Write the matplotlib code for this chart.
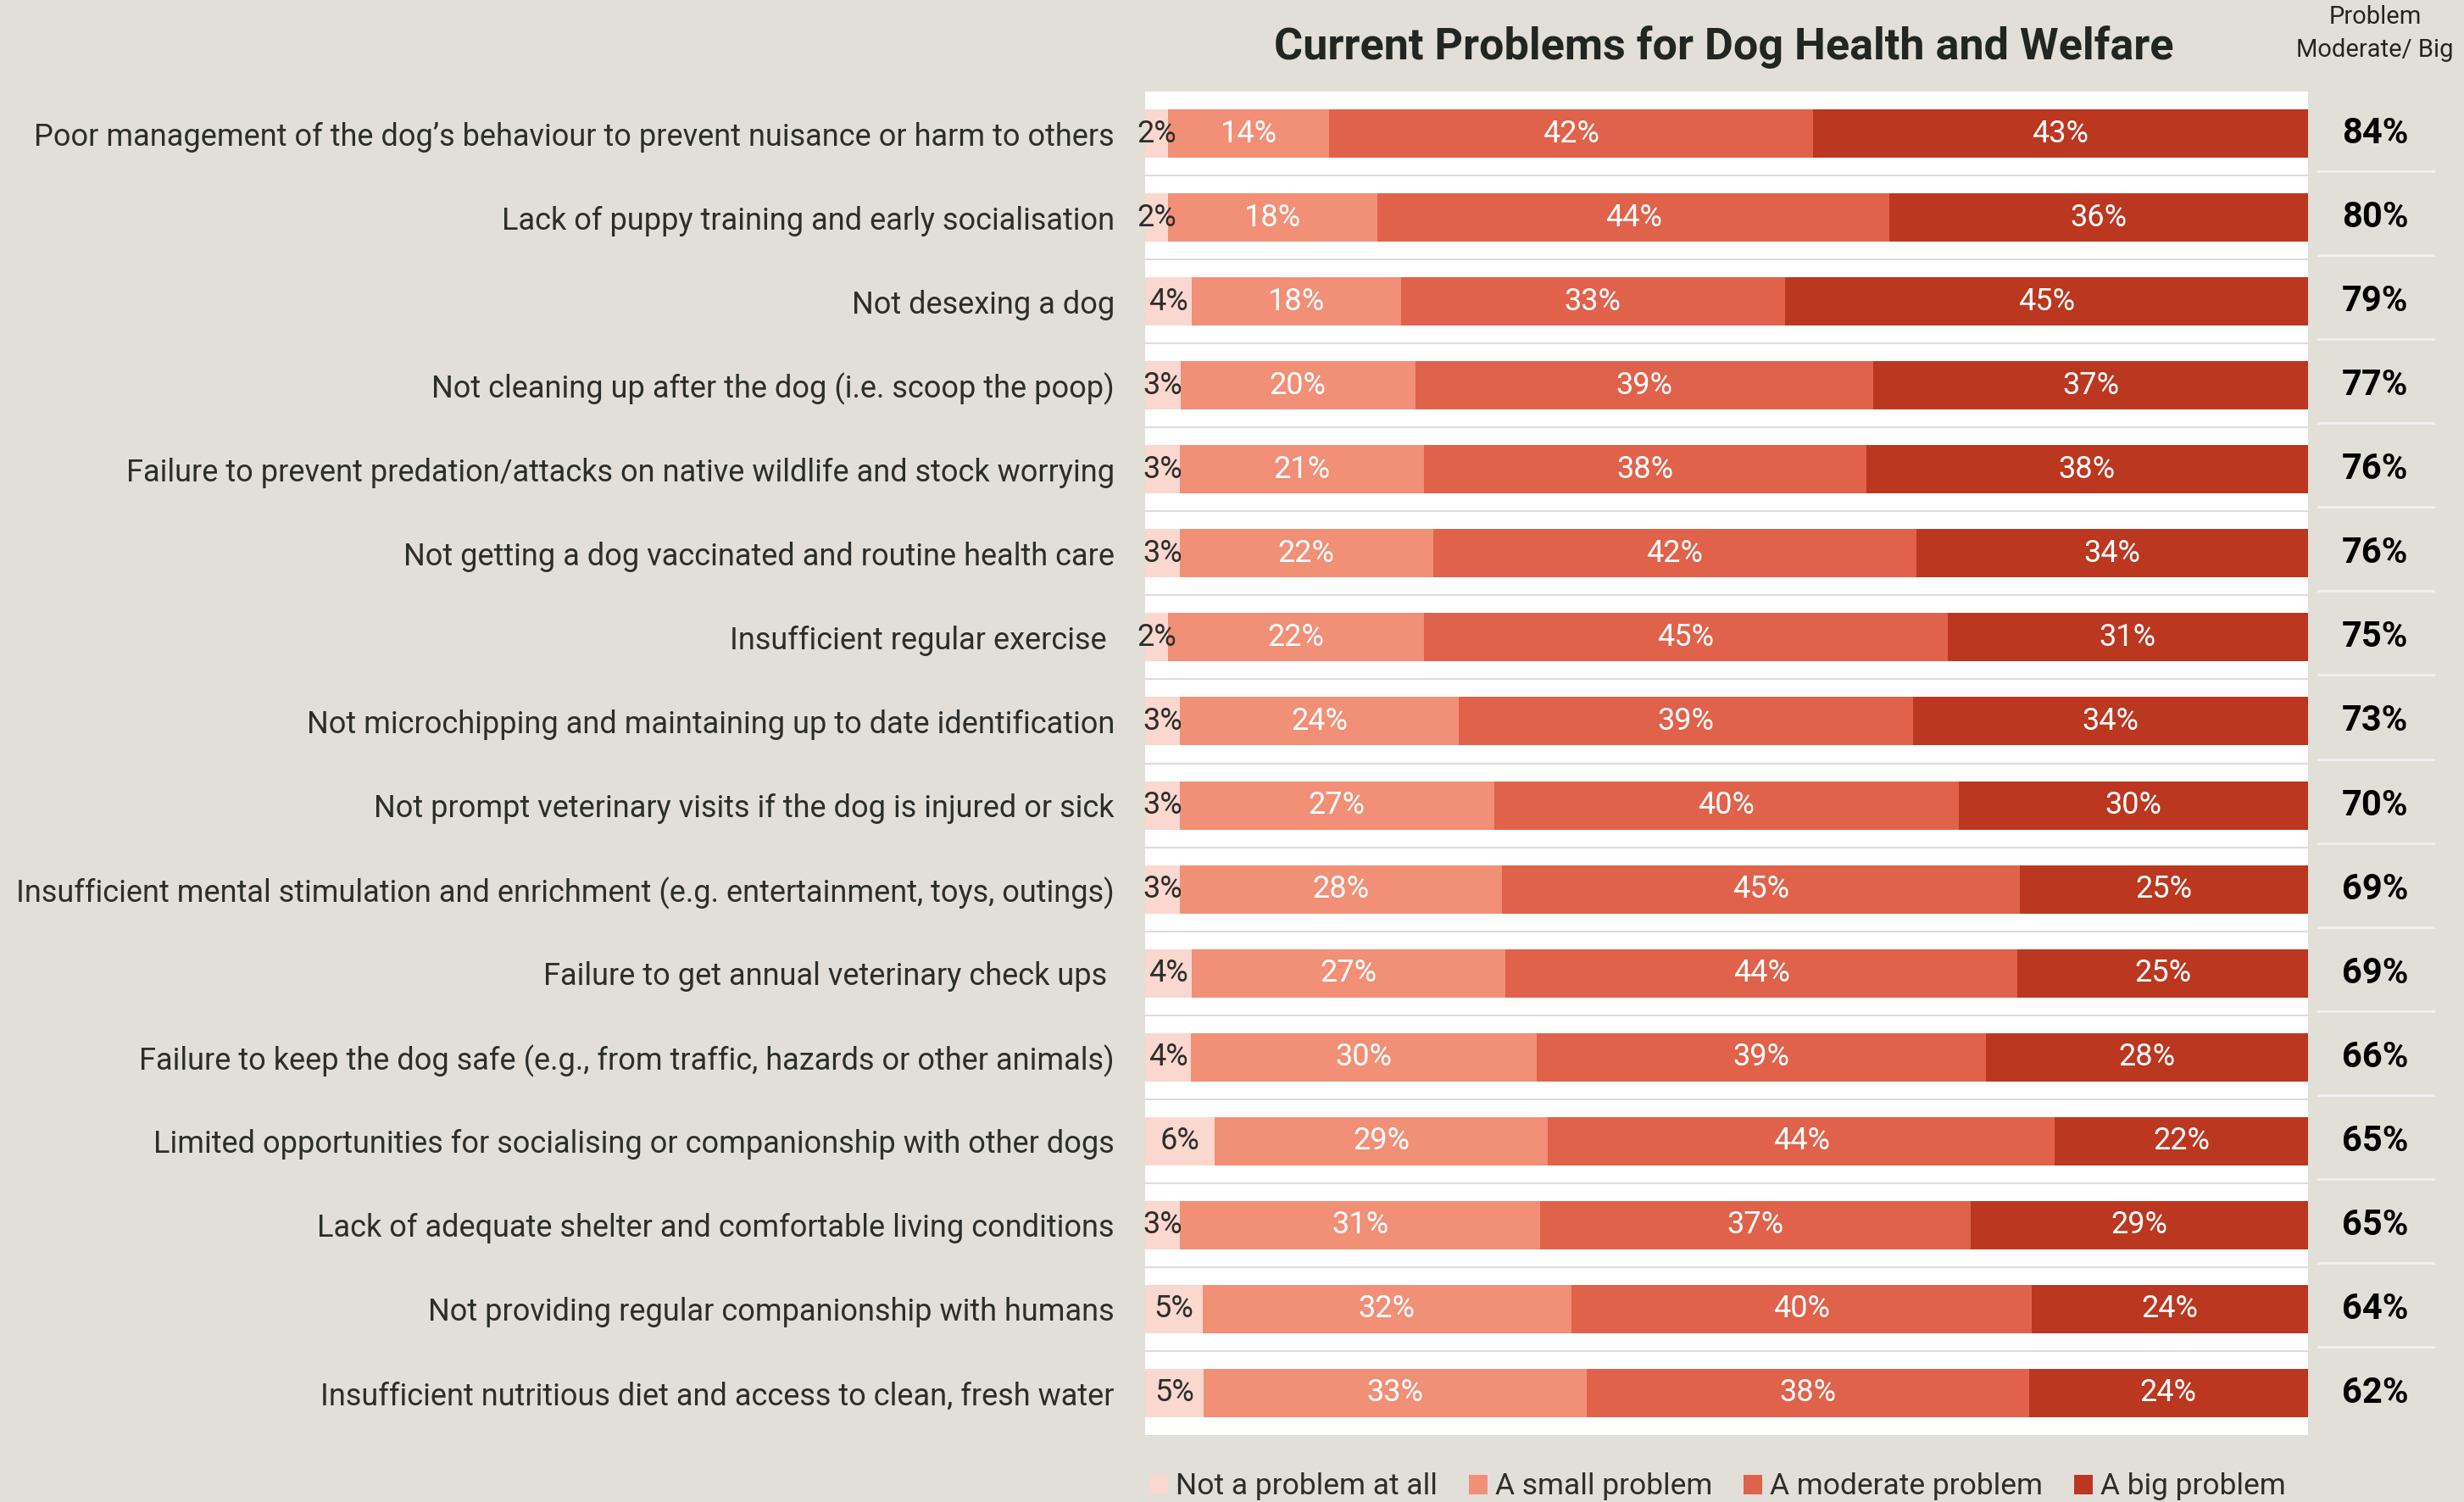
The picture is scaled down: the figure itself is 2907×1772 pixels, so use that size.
import matplotlib
matplotlib.use("Agg")
import matplotlib.pyplot as plt
import numpy as np
from matplotlib.transforms import blended_transform_factory
from matplotlib.lines import Line2D

plt.rcParams['font.family'] = ['Roboto', 'DejaVu Sans']

categories = [
    "Poor management of the dog\u2019s behaviour to prevent nuisance or harm to others",
    "Lack of puppy training and early socialisation",
    "Not desexing a dog",
    "Not cleaning up after the dog (i.e. scoop the poop)",
    "Failure to prevent predation/attacks on native wildlife and stock worrying",
    "Not getting a dog vaccinated and routine health care",
    "Insufficient regular exercise ",
    "Not microchipping and maintaining up to date identification",
    "Not prompt veterinary visits if the dog is injured or sick",
    "Insufficient mental stimulation and enrichment (e.g. entertainment, toys, outings)",
    "Failure to get annual veterinary check ups ",
    "Failure to keep the dog safe (e.g., from traffic, hazards or other animals)",
    "Limited opportunities for socialising or companionship with other dogs",
    "Lack of adequate shelter and comfortable living conditions",
    "Not providing regular companionship with humans",
    "Insufficient nutritious diet and access to clean, fresh water",
]
not_a_problem = [2, 2, 4, 3, 3, 3, 2, 3, 3, 3, 4, 4, 6, 3, 5, 5]
small_problem = [14, 18, 18, 20, 21, 22, 22, 24, 27, 28, 27, 30, 29, 31, 32, 33]
moderate_problem = [42, 44, 33, 39, 38, 42, 45, 39, 40, 45, 44, 39, 44, 37, 40, 38]
big_problem = [43, 36, 45, 37, 38, 34, 31, 34, 30, 25, 25, 28, 22, 29, 24, 24]
moderate_big = [84, 80, 79, 77, 76, 76, 75, 73, 70, 69, 69, 66, 65, 65, 64, 62]
series_names = ["Not a problem at all", "A small problem", "A moderate problem", "A big problem"]

colors = ["#fad7cf", "#f18f77", "#e0624b", "#bc3720"]
label_colors = ["#2b2f2b", "white", "white", "white"]
bg = "#e2dfd9"
dark = "#222622"

W, H = 2907, 1772
fig = plt.figure(figsize=(W / 100, H / 100), dpi=100, facecolor=bg)
ax = fig.add_axes([1351 / W, 1 - 1693 / H, (2723 - 1351) / W, (1693 - 108) / H])
ax.set_facecolor("white")

series = np.array([not_a_problem, small_problem, moderate_problem, big_problem], dtype=float)
totals = series.sum(axis=0)
shares = series / totals * 100
y = np.arange(len(categories))

left = np.zeros(len(categories))
containers = []
for i in range(4):
    c = ax.barh(y, shares[i], left=left, height=0.575, color=colors[i],
                label=series_names[i], linewidth=0)
    containers.append(c)
    ax.bar_label(c, labels=[f"{int(v)}%" for v in series[i]], label_type='center',
                 color=label_colors[i], fontsize=26)
    left += shares[i]

for b in np.arange(0.5, len(categories) - 1, 1.0):
    ax.axhline(b, color="#dcdedd", lw=1.5, zorder=0)

ax.set_xlim(0, 100)
ax.set_ylim(len(categories) - 0.5, -0.5)
ax.set_yticks(y, categories, fontsize=26, color="#2b2f2b")
ax.tick_params(axis='y', length=0, pad=26)
ax.set_xticks([])
for s in ax.spines.values():
    s.set_visible(False)

# Right column
tr = blended_transform_factory(fig.transFigure, ax.transData)
xc = 2802 / W
for i, v in enumerate(moderate_big):
    ax.text(xc, i, f"{v}%", transform=tr, ha='center', va='center', fontsize=30,
            fontweight='bold', color='black', clip_on=False)
for b in np.arange(0.5, len(categories) - 1, 1.0):
    ax.add_line(Line2D([2735 / W, 2871 / W], [b - 0.05, b - 0.05], transform=tr,
                       color="#efefef", lw=2.2, clip_on=False))

fig.text(xc, 1 - 20 / H, "Problem", ha='center', va='center', fontsize=21, color=dark)
fig.text(xc, 1 - 59 / H, "Moderate/ Big", ha='center', va='center', fontsize=21, color=dark)

fig.text(2034 / W, 1 - 56 / H, "Current Problems for Dog Health and Welfare", ha='center',
         va='center', fontsize=37.5, fontweight='bold', color=dark)

leg = fig.legend(handles=containers, labels=series_names, loc='center left',
                 bbox_to_anchor=(1356 / W, 1 - 1754 / H), ncol=4, frameon=False,
                 prop={'size': 25.5}, handlelength=0.62, handleheight=0.62,
                 handletextpad=0.25, columnspacing=1.05, borderpad=0, borderaxespad=0)
for t in leg.get_texts():
    t.set_color("#2b2f2b")

fig.savefig("out.png", dpi=100, facecolor=bg)
